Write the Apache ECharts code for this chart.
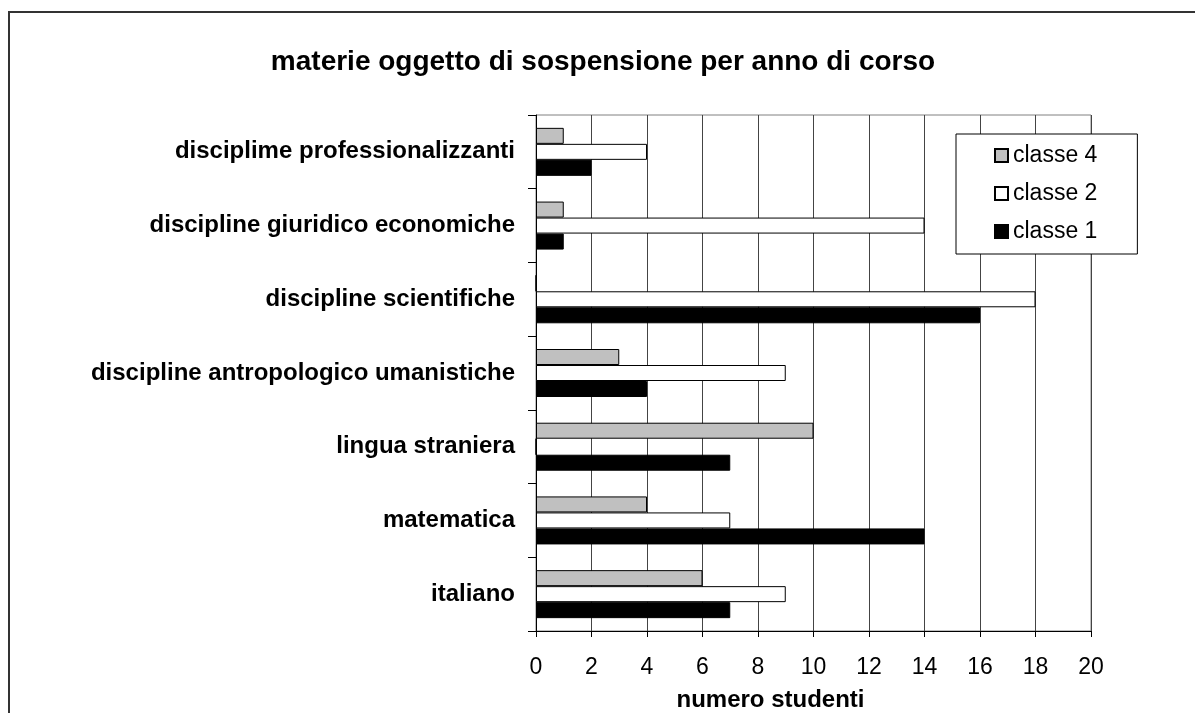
<!DOCTYPE html>
<html>
<head>
<meta charset="utf-8">
<script src="https://cdn.jsdelivr.net/npm/echarts@6/dist/echarts.min.js"></script>
<style>
  html, body { margin: 0; padding: 0; background: #fff; }
  #chart { width: 1195px; height: 713px; }
</style>
</head>
<body>
<div id="chart"></div>
<script>
// categories, bottom to top
var categories = [
  'italiano',
  'matematica',
  'lingua straniera',
  'discipline antropologico umanistiche',
  'discipline scientifiche',
  'discipline giuridico economiche',
  'disciplime professionalizzanti'
]
var classe4 = [6, 4, 10, 3, 0, 1, 1]
var classe2 = [9, 7, 0, 9, 18, 14, 4]
var classe1 = [7, 14, 7, 4, 16, 1, 2]

var font = '"Liberation Sans", Arial, sans-serif'

var chart = echarts.init(document.getElementById('chart'))

function barSeries(name, data, color) {
  return {
    name: name,
    type: 'bar',
    data: data,
    barWidth: 16,
    barGap: '0%',
    barCategoryGap: '35%',
    itemStyle: { color: color, borderColor: '#000', borderWidth: 1 },
    emphasis: { disabled: true }
  }
}

var option = {
  animation: false,
  textStyle: { fontFamily: font },
  title: {
    text: 'materie oggetto di sospensione per anno di corso',
    left: 598,
    textAlign: 'center',
    top: 43,
    textStyle: { fontFamily: font, fontSize: 28, fontWeight: 'bold', color: '#000' }
  },
  graphic: [
    {
      type: 'rect',
      shape: { x: 9, y: 12, width: 1200, height: 720 },
      style: { fill: null, stroke: '#333', lineWidth: 2 },
      silent: true
    },
    {
      type: 'rect',
      shape: { x: 536, y: 115, width: 555, height: 516 },
      style: { fill: null, stroke: '#808080', lineWidth: 1 },
      silent: true,
      z: -1
    }
  ],
  legend: {
    orient: 'vertical',
    left: 956,
    top: 134,
    padding: [10, 40, 11, 38],
    itemGap: 15,
    itemWidth: 13,
    itemHeight: 13,
    icon: 'rect',
    borderColor: '#000',
    borderWidth: 1,
    backgroundColor: '#fff',
    data: ['classe 4', 'classe 2', 'classe 1'],
    textStyle: { fontFamily: font, fontSize: 23, color: '#000' }
  },
  grid: {
    left: 536,
    right: 104,
    top: 115,
    bottom: 82,
    outerBoundsMode: 'none'
  },
  xAxis: {
    type: 'value',
    min: 0,
    max: 20,
    interval: 2,
    name: 'numero studenti',
    nameLocation: 'middle',
    nameGap: 57,
    nameTextStyle: {
      fontFamily: font, fontSize: 24, fontWeight: 'bold', color: '#000',
      padding: [0, 86, 0, 0]
    },
    axisLine: { show: true, lineStyle: { color: '#000', width: 1 } },
    axisTick: { show: true, length: 6, lineStyle: { color: '#000' } },
    axisLabel: { fontFamily: font, fontSize: 23, color: '#000', margin: 25 },
    splitLine: { show: true, lineStyle: { color: '#444', width: 1 } }
  },
  yAxis: {
    type: 'category',
    data: categories,
    axisLine: { show: true, lineStyle: { color: '#000', width: 1 } },
    axisTick: { show: true, length: 8, lineStyle: { color: '#000' } },
    axisLabel: { fontFamily: font, fontSize: 24, fontWeight: 'bold', color: '#000', margin: 21 }
  },
  series: [
    barSeries('classe 4', classe4, '#c0c0c0'),
    barSeries('classe 2', classe2, '#ffffff'),
    barSeries('classe 1', classe1, '#000000')
  ]
}

chart.setOption(option)
</script>
</body>
</html>
